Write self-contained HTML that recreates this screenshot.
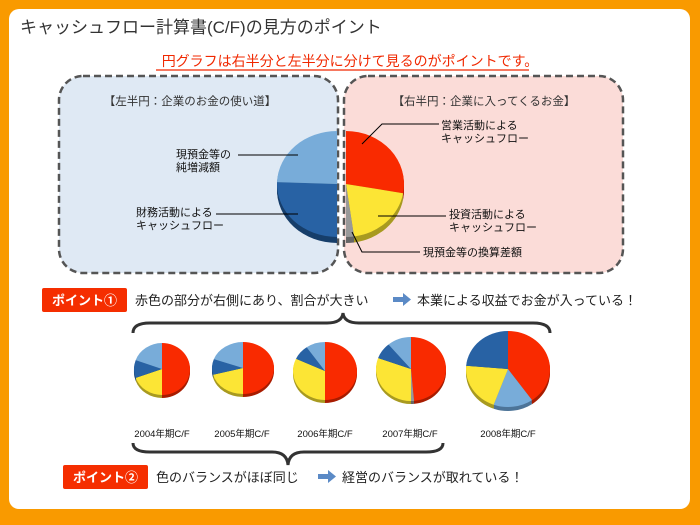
<!DOCTYPE html>
<html><head><meta charset="utf-8"><style>
body{margin:0;width:700px;height:520px;overflow:hidden;background:#f90;font-family:"Liberation Sans","Noto Sans CJK JP",sans-serif}
svg text{font-family:"Liberation Sans","Noto Sans CJK JP",sans-serif}
</style></head><body>
<svg id="s" width="700" height="520" xmlns="http://www.w3.org/2000/svg">
<rect x="0" y="0" width="700" height="520" fill="#f99a00"/>
<rect x="9" y="9" width="681" height="500" rx="10" fill="#fff"/>
<text x="20" y="33" font-size="17" fill="#333">キャッシュフロー計算書(C/F)の見方のポイント</text>
<text x="350" y="66" font-size="14" fill="#f02800" text-anchor="middle">円グラフは右半分と左半分に分けて見るのがポイントです。</text>
<line x1="156" y1="70" x2="529" y2="70" stroke="#f02800" stroke-width="1.2"/>
<rect x="59" y="76" width="279" height="197" rx="24" fill="#dfe9f4" stroke="#555" stroke-width="2.5" stroke-dasharray="7,4"/>
<rect x="344" y="76" width="279" height="197" rx="24" fill="#fbdcd8" stroke="#555" stroke-width="2.5" stroke-dasharray="7,4"/>
<text x="190" y="105" font-size="11.5" fill="#333" text-anchor="middle">【左半円：企業のお金の使い道】</text>
<text x="484" y="105" font-size="11.5" fill="#333" text-anchor="middle">【右半円：企業に入ってくるお金】</text>
<g id="pies"></g>
<g font-size="11" fill="#111">
<text x="176" y="158">現預金等の</text><text x="176" y="171">純増減額</text>
<text x="136" y="216">財務活動による</text><text x="136" y="229">キャッシュフロー</text>
<text x="441" y="129">営業活動による</text><text x="441" y="142">キャッシュフロー</text>
<text x="449" y="218">投資活動による</text><text x="449" y="231">キャッシュフロー</text>
<text x="423" y="256">現預金等の換算差額</text>
</g>
<g stroke="#000" stroke-width="1" fill="none">
<polyline points="238,155 298,155"/>
<polyline points="216,214 298,214"/>
<polyline points="439,124 382,124 362,144"/>
<polyline points="446,216 378,216"/>
<polyline points="420,252 362,252 352,232"/>
</g>
<rect x="42" y="288" width="85" height="24" rx="2" fill="#f52e00"/>
<text x="84.5" y="305" font-size="13" font-weight="bold" fill="#fff" text-anchor="middle">ポイント①</text>
<text x="135" y="305" font-size="13" fill="#222">赤色の部分が右側にあり、割合が大きい</text>
<text x="417" y="305" font-size="13" fill="#222">本業による収益でお金が入っている！</text>
<rect x="393" y="297" width="12" height="5" fill="#5b8ac6"/><polygon points="403,293 411,299.5 403,306" fill="#5b8ac6"/>
<path d="M133,333 Q133,323 150,323 L327,323 Q342,323 343,313 Q344,323 359,323 L533,323 Q550,323 550,333" fill="none" stroke="#333" stroke-width="3"/>
<path d="M133,443 Q133,452 150,452 L272,452 Q287,452 288,465 Q289,452 304,452 L426,452 Q443,452 443,443" fill="none" stroke="#333" stroke-width="3"/>
<g font-size="9.5" fill="#111" text-anchor="middle">
<text x="162" y="437">2004年期C/F</text><text x="242" y="437">2005年期C/F</text>
<text x="325" y="437">2006年期C/F</text><text x="410" y="437">2007年期C/F</text>
<text x="508" y="437">2008年期C/F</text>
</g>
<rect x="63" y="465" width="85" height="24" rx="2" fill="#f52e00"/>
<text x="105.5" y="482" font-size="13" font-weight="bold" fill="#fff" text-anchor="middle">ポイント②</text>
<text x="156" y="482" font-size="13" fill="#222">色のバランスがほぼ同じ</text>
<text x="342" y="482" font-size="13" fill="#222">経営のバランスが取れている！</text>
<rect x="318" y="474" width="12" height="5" fill="#5b8ac6"/><polygon points="328,470 336,476.5 328,483" fill="#5b8ac6"/>
</svg>
<script>
var g=document.getElementById('pies'),NS='http://www.w3.org/2000/svg';
var C={r:'#f92a00',y:'#fce535',d:'#2862a4',l:'#78acd9',g:'#999'};
var D={r:'#a81c00',y:'#a89a20',d:'#173e6a',l:'#4d7498',g:'#666'};
function arc(cx,cy,rx,ry,a,b){var r=Math.PI/180,x1=cx+rx*Math.sin(a*r),y1=cy-ry*Math.cos(a*r),x2=cx+rx*Math.sin(b*r),y2=cy-ry*Math.cos(b*r);
return 'M'+cx+','+cy+'L'+x1+','+y1+'A'+rx+','+ry+' 0 '+((b-a)>180?1:0)+' 1 '+x2+','+y2+'Z';}
function p(d,f){var e=document.createElementNS(NS,'path');e.setAttribute('d',d);e.setAttribute('fill',f);g.appendChild(e);}
function pie(cx,cy,rx,ry,sl,dp){for(var k=dp;k>0;k--)sl.forEach(function(s){p(arc(cx,cy+k,rx,ry,s[0],s[1]),D[s[2]]);});
sl.forEach(function(s){p(arc(cx,cy,rx,ry,s[0],s[1]),C[s[2]]);});}
pie(337,184,60,53,[[180,272,'d'],[272,360,'l']],6);
pie(346,184,58,53,[[0,100,'r'],[100,172,'y'],[172,180,'g']],6);
pie(162,369,28,26,[[0,180,'r'],[180,250,'y'],[250,290,'d'],[290,360,'l']],3);
pie(243,368,31,26,[[0,180,'r'],[180,255,'y'],[255,290,'d'],[290,360,'l']],3);
pie(325,371,32,29,[[0,180,'r'],[180,295,'y'],[295,325,'d'],[325,360,'l']],3);
pie(411,369,35,32,[[0,175,'r'],[175,180,'g'],[180,290,'y'],[290,320,'d'],[320,360,'l']],3);
pie(508,369,42,38,[[0,145,'r'],[145,200,'l'],[200,275,'y'],[275,360,'d']],4);
</script>
</body></html>
